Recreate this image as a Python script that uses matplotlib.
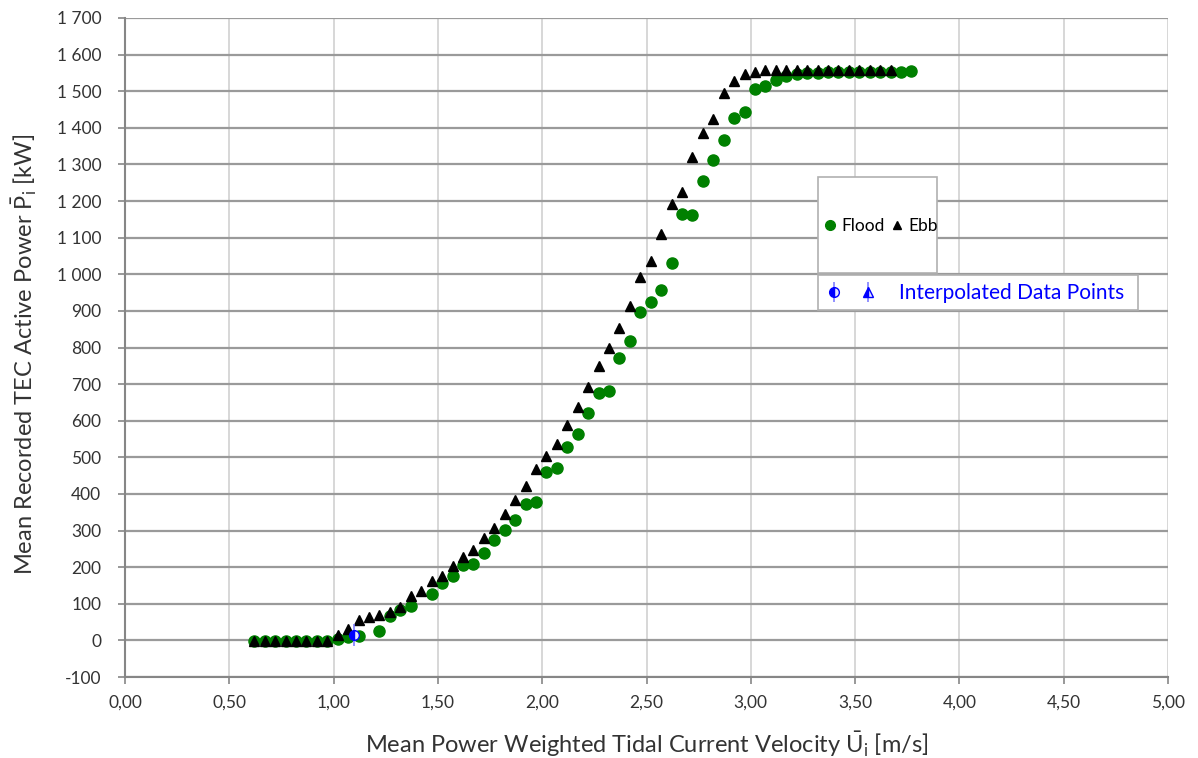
import matplotlib
matplotlib.use("Agg")
import matplotlib.pyplot as plt
from matplotlib.lines import Line2D
from matplotlib.patches import Rectangle
from matplotlib.ticker import FuncFormatter, MultipleLocator

plt.rcParams['font.family'] = ['Lato', 'DejaVu Sans']
plt.rcParams['mathtext.fontset'] = 'custom'
plt.rcParams['mathtext.rm'] = 'Lato'
plt.rcParams['mathtext.it'] = 'Lato:italic'
plt.rcParams['axes.unicode_minus'] = False

# Flood (green circles): mean velocity [m/s] and mean power [kW]
flood_u = [0.62, 0.67, 0.72, 0.77, 0.82, 0.87, 0.92, 0.97, 1.02, 1.07,
           1.12, 1.22, 1.27, 1.32, 1.37, 1.47, 1.52, 1.57, 1.62, 1.67,
           1.72, 1.77, 1.82, 1.87, 1.92, 1.97, 2.02, 2.07, 2.12, 2.17,
           2.22, 2.27, 2.32, 2.37, 2.42, 2.47, 2.52, 2.57, 2.62, 2.67,
           2.72, 2.77, 2.82, 2.87, 2.92, 2.97, 3.02, 3.07, 3.12, 3.17,
           3.22, 3.27, 3.32, 3.37, 3.42, 3.47, 3.52, 3.57, 3.62, 3.67,
           3.72, 3.77]
flood_p = [-2, -2, -2, -2, -2, -2, -1, -2, 5, 8,
           12, 25, 66, 84, 93, 128, 158, 175, 207, 210,
           240, 275, 302, 328, 372, 379, 460, 472, 527, 563,
           622, 677, 682, 770, 817, 897, 925, 957, 1032, 1164,
           1161, 1254, 1311, 1366, 1427, 1443, 1507, 1513, 1530, 1541,
           1548, 1549, 1550, 1552, 1552, 1552, 1552, 1552, 1552, 1553,
           1553, 1554]

# Ebb (black triangles)
ebb_u = [0.62, 0.67, 0.72, 0.77, 0.82, 0.87, 0.92, 0.97, 1.02, 1.07,
         1.12, 1.17, 1.22, 1.27, 1.32, 1.37, 1.42, 1.47, 1.52, 1.57,
         1.62, 1.67, 1.72, 1.77, 1.82, 1.87, 1.92, 1.97, 2.02, 2.07,
         2.12, 2.17, 2.22, 2.27, 2.32, 2.37, 2.42, 2.47, 2.52, 2.57,
         2.62, 2.67, 2.72, 2.77, 2.82, 2.87, 2.92, 2.97, 3.02, 3.07,
         3.12, 3.17, 3.22, 3.27, 3.32, 3.37, 3.42, 3.47, 3.52, 3.57,
         3.62, 3.67]
ebb_p = [-2, -2, -2, -2, -2, -2, -2, -2, 14, 32,
         55, 65, 68, 77, 91, 120, 135, 161, 175, 202,
         228, 248, 281, 308, 344, 383, 423, 467, 505, 536,
         587, 638, 693, 749, 800, 854, 914, 993, 1036, 1109,
         1191, 1225, 1319, 1387, 1425, 1495, 1527, 1548, 1553, 1558,
         1558, 1558, 1558, 1558, 1558, 1558, 1559, 1559, 1559, 1559,
         1559, 1559]

# Interpolated flood point
interp_u = [1.10]
interp_p = [16]

x_ticks = [0.0, 0.5, 1.0, 1.5, 2.0, 2.5, 3.0, 3.5, 4.0, 4.5, 5.0]

fig = plt.figure(figsize=(11.98, 7.58), dpi=100)
ax = fig.add_axes([125 / 1198, 1 - 677 / 758, 1043 / 1198, 659 / 758])

green = '#008000'
ax.plot(flood_u, flood_p, 'o', color=green, markersize=8, zorder=3)
ax.plot(ebb_u, ebb_p, '^', color='black', markersize=6.5, zorder=4)
ax.plot(interp_u, interp_p, '|', color='#7f7fff', markersize=16, mew=1.2, zorder=5)
ax.plot(interp_u, interp_p, 'o', color='blue', fillstyle='left',
        markerfacecoloralt='#e6e6ff', markersize=7, zorder=5)

ax.set_xlim(0, 5)
ax.set_ylim(-100, 1700)
ax.set_xticks(x_ticks)
ax.yaxis.set_major_locator(MultipleLocator(100))
ax.xaxis.set_major_formatter(FuncFormatter(lambda v, p: f"{v:.2f}".replace('.', ',')))
ax.yaxis.set_major_formatter(FuncFormatter(lambda v, p: f"{v:,.0f}".replace(',', ' ')))

ax.grid(axis='y', color='#9a9a9a', linewidth=1.6)
ax.grid(axis='x', color='#d4d4d4', linewidth=1.3)
ax.set_axisbelow(True)
for s in ['top', 'right']:
    ax.spines[s].set_visible(False)
for s in ['left', 'bottom']:
    ax.spines[s].set_color('#868686')
    ax.spines[s].set_linewidth(1.5)
ax.tick_params(axis='both', direction='out', length=5, width=1.2, color='#868686',
               labelsize=12.5, labelcolor='#333333')
ax.tick_params(axis='y', pad=12)
ax.tick_params(axis='x', pad=8)

ax.set_xlabel(r"Mean Power Weighted Tidal Current Velocity $\bar{\mathrm{U}}_{\mathrm{i}}$ [m/s]",
              fontsize=17, color='#333333')
ax.set_ylabel(r"Mean Recorded TEC Active Power $\bar{\mathrm{P}}_{\mathrm{i}}$ [kW]",
              fontsize=17, color='#333333')
ax.xaxis.set_label_coords(0.5, -0.080)
ax.yaxis.set_label_coords(-0.082, 0.49)

# legend boxes
fig.patches.append(Rectangle((818 / 1198, 1 - 273 / 758), 119 / 1198, 96 / 758,
                             transform=fig.transFigure, facecolor='white',
                             edgecolor='#b0b0b0', linewidth=1.2, zorder=2))
fig.patches.append(Rectangle((818 / 1198, 1 - 310 / 758), 320 / 1198, 35 / 758,
                             transform=fig.transFigure, facecolor='white',
                             edgecolor='#b0b0b0', linewidth=1.2, zorder=2))

h_flood = Line2D([], [], marker='o', color=green, linestyle='none', markersize=7)
h_ebb = Line2D([], [], marker='^', color='black', linestyle='none', markersize=6)
leg1 = fig.legend([h_flood, h_ebb], ['Flood', 'Ebb'], ncol=2, frameon=False,
                  loc='center', bbox_to_anchor=(881 / 1198, 1 - 226 / 758),
                  fontsize=12.5, handlelength=0.6, handletextpad=0.35,
                  columnspacing=0.4, borderpad=0)
leg1.set_zorder(6)

bar1 = Line2D([], [], marker='|', color='#7f7fff', linestyle='none', markersize=15, mew=1.2)
circ = Line2D([], [], marker='o', color='blue', fillstyle='left',
              markerfacecoloralt='#e6e6ff', linestyle='none', markersize=7)
bar2 = Line2D([], [], marker='|', color='#7f7fff', linestyle='none', markersize=15, mew=1.2)
tri = Line2D([], [], marker='^', color='blue', fillstyle='left',
             markerfacecoloralt='#e6e6ff', linestyle='none', markersize=7)
leg2 = fig.legend([(bar1, circ), (bar2, tri)], ['', 'Interpolated Data Points'], ncol=2,
                  frameon=False, loc='center left',
                  bbox_to_anchor=(815 / 1198, 1 - 293 / 758),
                  fontsize=15, labelcolor='blue', handlelength=0.8,
                  handletextpad=1.1, columnspacing=-0.25, borderpad=0)
leg2.set_zorder(6)

fig.savefig('out.png', dpi=100)
